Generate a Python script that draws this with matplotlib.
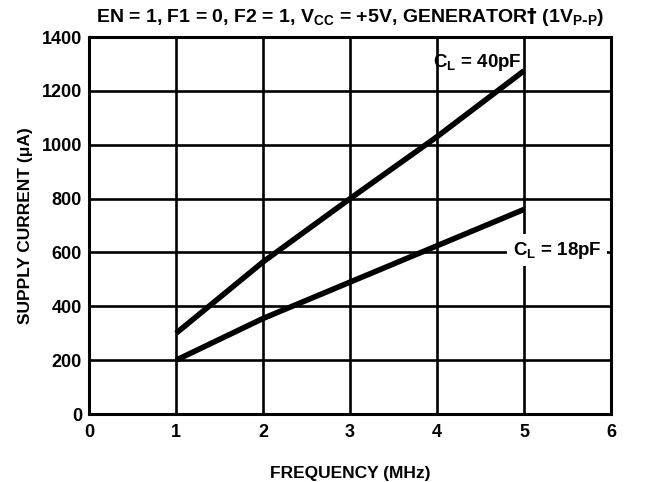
import matplotlib.pyplot as plt

freq = [1, 2, 3, 4, 5]
current_40pf = [300, 565, 800, 1030, 1275]
current_18pf = [200, 355, 490, 625, 760]

plt.rcParams['font.family'] = ['Liberation Sans', 'DejaVu Sans']
plt.rcParams['font.weight'] = 'bold'
plt.rcParams['mathtext.default'] = 'bf'

fig = plt.figure(figsize=(6.5, 4.82), dpi=100)
ax = fig.add_axes([0.137, 0.141, 0.803, 0.782])

ax.plot(freq, current_40pf, color='black', lw=4, solid_capstyle='butt')
ax.plot(freq, current_18pf, color='black', lw=4, solid_capstyle='butt')

ax.set_xlim(0, 6)
ax.set_ylim(0, 1400)
ax.set_xticks(range(0, 7))
ax.set_yticks(range(0, 1401, 200))
ax.grid(True, color='black', lw=1.9)
ax.set_axisbelow(True)
for s in ax.spines.values():
    s.set_linewidth(2.2)
ax.tick_params(axis='x', length=0, labelsize=13, pad=7)
ax.tick_params(axis='y', length=0, labelsize=13, pad=5)
for lab in ax.get_xticklabels() + ax.get_yticklabels():
    lab.set_fontweight('bold')

ax.text(4.46, 1307, r'C$_\mathregular{L}$ = 40pF', ha='center', va='center',
        fontsize=13.5, fontweight='bold')
ax.text(5.38, 609, r'C$_\mathregular{L}$ = 18pF', ha='center', va='center',
        fontsize=13.5, fontweight='bold',
        bbox=dict(facecolor='white', edgecolor='none', pad=4))

ax.set_xlabel('FREQUENCY (MHz)', fontsize=12.5, fontweight='bold', labelpad=18)
ax.set_ylabel('SUPPLY CURRENT (\u03bcA)', fontsize=12.5, fontweight='bold', labelpad=6)
ax.set_title(r'EN = 1, F1 = 0, F2 = 1, V$_\mathregular{CC}$ = +5V, GENERATOR$\dagger$ (1V$_\mathregular{P\text{-}P}$)',
             fontsize=14, fontweight='bold', pad=11)

fig.savefig('out.png', dpi=100)
